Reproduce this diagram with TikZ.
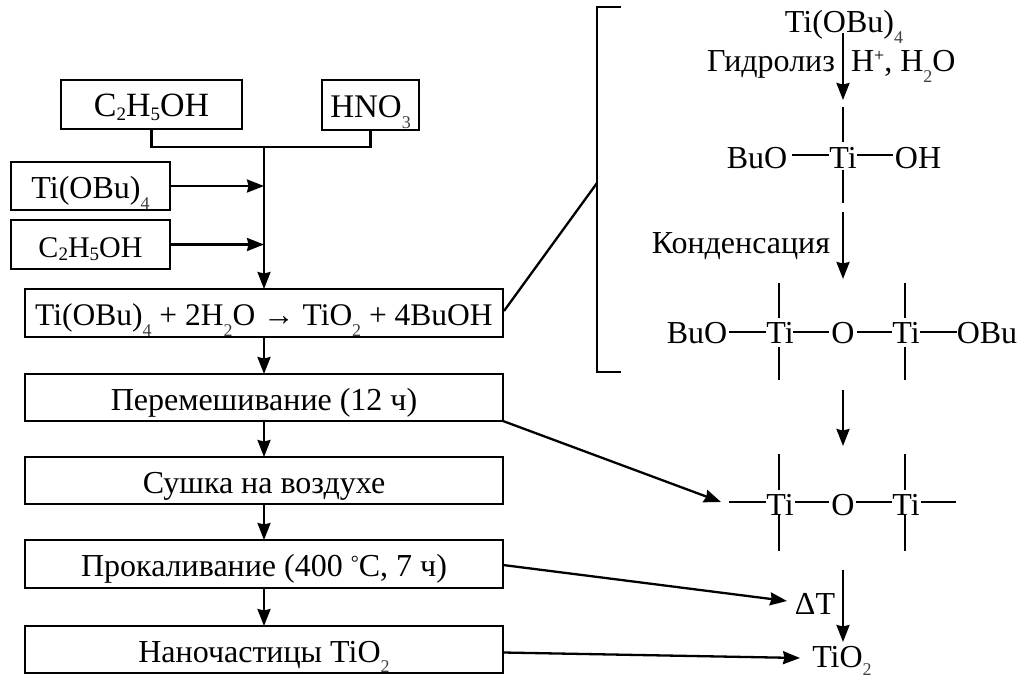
\documentclass[tikz,border=0pt]{standalone}
\usepackage{fontspec}
\setmainfont{Liberation Serif}
\usetikzlibrary{arrows.meta,calc}
\newcommand{\lo}[2][-10.5pt]{\raisebox{#1}{\fontsize{18}{18}\selectfont\color{black!75}#2}}
\newcommand{\loc}[1]{\raisebox{-3.5pt}{\fontsize{19}{19}\selectfont #1}}
\newcommand{\fs}[1]{\fontsize{#1}{#1}\selectfont}
\tikzset{
  x=1pt,y=-1pt,
  line/.style={line width=2.3pt,draw=black},
  arr/.style={line width=2.3pt,draw=black,-{Stealth[length=17pt,width=13pt,inset=1.5pt]}},
  boxn/.style={draw=black,line width=2.5pt,inner sep=0pt,outer sep=0pt,text height=25pt,text depth=0pt,font=\fs{32}},
  txt/.style={inner sep=0pt,outer sep=0pt,text height=25pt,text depth=0pt,font=\fs{32}},
}
\begin{document}
\begin{tikzpicture}
\useasboundingbox (0,0) rectangle (1023,677);
% left column boxes
\node[boxn,minimum width=181pt,minimum height=49pt] (c1) at (151.5,104.5) {\fs{34}C\loc{2}H\loc{5}OH};
\node[boxn,minimum width=97pt,minimum height=50pt] (hno) at (370.5,105) {\fs{33}HNO\lo{3}};
\node[boxn,minimum width=159pt,minimum height=48pt] (ti) at (90.5,186) {Ti(OBu)\lo{4}};
\node[boxn,minimum width=159pt,minimum height=49pt] (c2) at (90.5,244.5) {\fs{30}C\loc{2}H\loc{5}OH};
\node[boxn,minimum width=478pt,minimum height=48pt] (main) at (264,313) {\fs{31.5}Ti(OBu)\lo{4} + 2H\lo{2}O → TiO\lo{2} + 4BuOH};
\node[boxn,minimum width=478pt,minimum height=47pt] (perem) at (264,397.5) {Перемешивание (12 ч)};
\node[boxn,minimum width=478pt,minimum height=47pt] (sushka) at (264,480.5) {Сушка на воздухе};
\node[boxn,minimum width=478pt,minimum height=48pt] (prok) at (264,564) {Прокаливание (400 \raisebox{7pt}{\fs{20}°}C, 7 ч)};
\node[boxn,minimum width=478pt,minimum height=47pt] (nano) at (264,649.5) {Наночастицы TiO\lo{2}};
\coordinate (j) at (264,147);
\draw[line] (c1.south) |- (j) -| (hno.south);
\draw[arr] (j) -- (main.north);
\draw[arr] (ti.east) -- (ti.east -| j);
\draw[arr] (c2.east) -- (c2.east -| j);
\draw[arr] (main.south) -- (perem.north);
\draw[arr] (perem.south) -- (sushka.north);
\draw[arr] (sushka.south) -- (prok.north);
\draw[arr] (prok.south) -- (nano.north);
% bracket
\coordinate (bt) at (621,7);
\coordinate (bb) at (621,372);
\coordinate (bm) at (597,183);
\draw[line] (bt) -- (597,7) -- (597,372) -- (bb);
\draw[line] (main.east) ++(1,-2) -- (bm);
% first step
\node[txt] (s0) at (844,20.5) {Ti(OBu)\lo{4}};
\node[txt,anchor=east] (hyd) at (835,59.5) {Гидролиз};
\node[txt,anchor=west] (hp) at (851,59.5) {H\raisebox{10pt}{\fs{18}+}, H\lo{2}O};
\coordinate (a1s) at (843,33); \coordinate (a1e) at (843,100);
\draw[arr] (a1s) -- (a1e);
\node[txt] (t1) at (843,155.5) {Ti};
\node[txt] (bu1) at (757,155.5) {BuO};
\node[txt] (oh) at (918,155.5) {OH};
\draw[line] (792,155) -- (829,155);
\draw[line] (857,155) -- (893,155);
\draw[line] (843,107) -- (843,142);
\draw[line] (843,170) -- (843,203);
% condensation
\node[txt,anchor=east] (kond) at (830,240.5) {Конденсация};
\draw[arr] (843,212) -- (843,279);
% dimer
\node[txt] (bu2) at (697,330.5) {BuO};
\node[txt] (t2) at (780,330.5) {Ti};
\node[txt] (o2) at (843,330.5) {O};
\node[txt] (t3) at (906,330.5) {Ti};
\node[txt] (obu) at (987,330.5) {OBu};
\draw[line] (729,332) -- (766,332);
\draw[line] (793,332) -- (829,332);
\draw[line] (857,332) -- (892,332);
\draw[line] (920,332) -- (957,332);
\draw[line] (779,283) -- (779,318);
\draw[line] (779,347) -- (779,380);
\draw[line] (905,283) -- (905,318);
\draw[line] (905,347) -- (905,380);
\draw[arr] (843,390) -- (843,446);
% polymer
\node[txt] (t4) at (780,502.5) {Ti};
\node[txt] (o3) at (843,502.5) {O};
\node[txt] (t5) at (906,502.5) {Ti};
\coordinate (pe) at (721,502);
\draw[line] (729,502) -- (766,502);
\draw[line] (795,502) -- (829,502);
\draw[line] (856,502) -- (892,502);
\draw[line] (921,502) -- (956,502);
\draw[line] (779,454) -- (779,490);
\draw[line] (779,515) -- (779,551);
\draw[line] (905,454) -- (905,490);
\draw[line] (905,515) -- (905,551);
% end
\node[txt] (dt) at (815,601.5) {ΔT};
\node[txt] (tio) at (842,654.5) {TiO\lo[-8pt]{2}};
\draw[arr] (843,570) -- (843,642);
\draw[arr] (perem.south east) -- (pe);
\draw[arr] (prok.east) ++(0,1) -- (787,601);
\draw[arr] (nano.east) ++(0,3) -- (800,658);
\end{tikzpicture}
\end{document}
